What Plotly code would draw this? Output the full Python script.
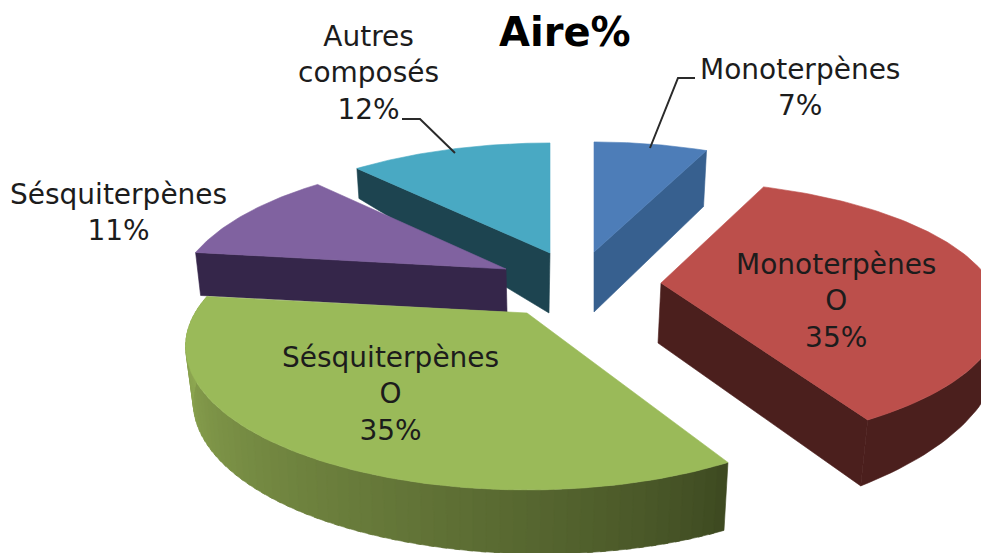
import math
import plotly.graph_objects as go

TITLE = "Aire%"
categories = ["Monoterpènes", "Monoterpènes<br>O", "Sésquiterpènes<br>O", "Sésquiterpènes", "Autres<br>composés"]
values = [7, 35, 35, 11, 12]

top_colors = ["#4d7db8", "#bc4f4b", "#9aba59", "#8062a0", "#49a9c3"]
wall_colors = ["#37608f", "#4b1f1d", "#3e4a21", "#35264a", "#1d4450"]
# exploded layout of each slice: apex px, radius, vertical scale
apex = [(594, 252), (661, 283), (527, 313), (506, 269), (550, 253)]
radius = [320, 330, 332, 322, 330]
yscale = [1.0, 0.93, 1.0, 1.0, 1.0]
label_pos = [(800, 87), (836, 301), (390, 394), (118, 212), (368, 73)]

RY, P = 135.7, 0.233
total = sum(values)
edges = [0]
for v in values:
    edges.append(edges[-1] + v / total * 360)
RED_START, RED_END = edges[1] - 3, edges[2] - 1.2


def pt(i, deg):
    t = math.radians(deg)
    d = 1 + P * math.cos(t)
    return (apex[i][0] + radius[i] * math.sin(t) / d,
            apex[i][1] - yscale[i] * RY * math.cos(t) / d)


def arc(i, a, b, n=60):
    return [pt(i, a + (b - a) * k / n) for k in range(n + 1)]


fig = go.Figure()


def poly(points, color, name):
    xs = [p[0] for p in points] + [points[0][0]]
    ys = [p[1] for p in points] + [points[0][1]]
    fig.add_trace(go.Scatter(x=xs, y=ys, mode="lines", fill="toself", fillcolor=color,
                             line=dict(color=color, width=0.6), hoverinfo="skip",
                             showlegend=False, name=name))


def hexrgb(c):
    return [int(c[k:k + 2], 16) for k in (1, 3, 5)]


def mix(c1, c2, f):
    a, b = hexrgb(c1), hexrgb(c2)
    return "rgb(%d,%d,%d)" % tuple(round(a[k] + (b[k] - a[k]) * f) for k in range(3))


def side(i, deg, d_apex, s_apex, d_edge, s_edge):
    a = apex[i]
    e = pt(i, deg)
    poly([a, e, (e[0] + s_edge, e[1] + d_edge), (a[0] + s_apex, a[1] + d_apex)], wall_colors[i], categories[i])


# back to front: Autres, Monoterpènes, Monoterpènes O, Sésquiterpènes, Sésquiterpènes O
side(4, edges[4], 60, -1, 30, 2)
poly([apex[4]] + arc(4, edges[4], edges[5]), top_colors[4], categories[4])

side(0, edges[1], 60, 0, 56, -3)
poly([apex[0]] + arc(0, edges[0], edges[1]), top_colors[0], categories[0])

side(1, RED_END, 60, -3, 66, -7)
red_a, red_b = 95, RED_END
N = 40
low = []
for k in range(N + 1):
    f = k / N
    p = pt(1, red_a + (red_b - red_a) * f)
    low.append((p[0] - 7 * f, p[1] + 35 + 31 * f))
poly(arc(1, red_a, red_b, N) + low[::-1], wall_colors[1], categories[1])
poly([apex[1]] + arc(1, RED_START, RED_END, 100), top_colors[1], categories[1])

side(3, edges[3], 43, 1, 43, 5)
poly([apex[3]] + arc(3, edges[3], edges[4]), top_colors[3], categories[3])

N = 70
for k in range(N):
    a0 = edges[2] + (edges[3] - edges[2]) * k / N
    a1 = edges[2] + (edges[3] - edges[2]) * (k + 1.4) / N
    f0, f1 = k / N, min(1, (k + 1.4) / N)
    p0, p1 = pt(2, a0), pt(2, min(a1, edges[3]))
    color = mix("#3e4a21", "#97b257", (k / N) ** 0.85)
    q0 = (p0[0] - 4 + 14 * f0, p0[1] + 68 - 18 * f0)
    q1 = (p1[0] - 4 + 14 * f1, p1[1] + 68 - 18 * f1)
    poly([p0, p1, q1, q0], color, categories[2])
poly([apex[2]] + arc(2, edges[2], edges[3], 120), top_colors[2], categories[2])

# leader lines
leaders = [([650, 678, 695], [148, 78, 78]), ([455, 420, 402], [153, 119, 119])]
for lx, ly in leaders:
    fig.add_trace(go.Scatter(x=lx, y=ly, mode="lines", line=dict(color="#2a2a2a", width=2),
                             hoverinfo="skip", showlegend=False))

FONT = "DejaVu Sans"
annotations = [dict(x=565, y=32, text=f"<b>{TITLE}</b>", showarrow=False, xref="x", yref="y",
                    font=dict(family=FONT, size=40, color="#000000"))]
for name, val, (lx, ly) in zip(categories, values, label_pos):
    annotations.append(dict(x=lx, y=ly, text=f"{name}<br>{val}%", showarrow=False, xref="x", yref="y",
                            align="center", font=dict(family=FONT, size=28, color="#1c1c1c")))

fig.update_layout(
    width=981, height=553, margin=dict(l=0, r=0, t=0, b=0),
    paper_bgcolor="white", plot_bgcolor="white", showlegend=False,
    xaxis=dict(range=[0, 981], visible=False, fixedrange=True),
    yaxis=dict(range=[553, 0], visible=False, fixedrange=True),
    annotations=annotations,
)
fig.write_html("out.html", config={"displayModeBar": False},
               post_script="document.body.style.margin='0';document.documentElement.style.overflow='hidden';")
